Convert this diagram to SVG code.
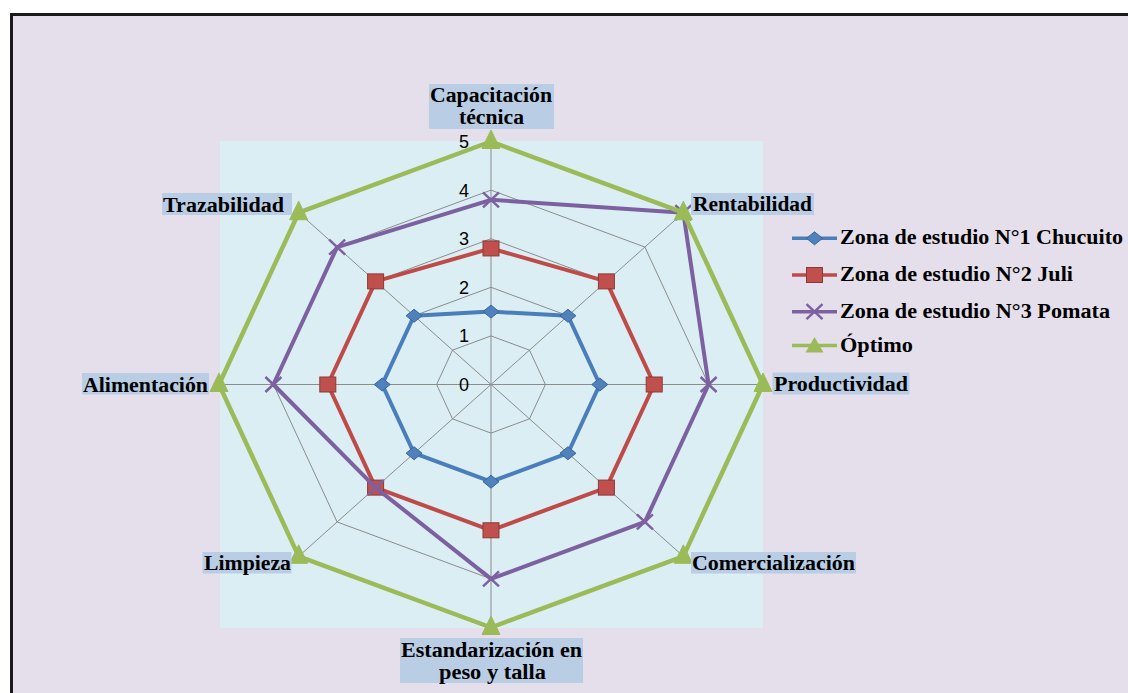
<svg xmlns="http://www.w3.org/2000/svg" width="1128" height="693" viewBox="0 0 1128 693">
<style>
.lbl{font-family:"Liberation Serif","Times New Roman",serif;font-weight:bold;font-size:20px;fill:#000}
.box{fill:#B9CDE5}
.tick{font-family:"Liberation Sans",Arial,sans-serif;font-size:18px;fill:#000;text-anchor:end}
.grid{fill:none;stroke:#8C8C8C;stroke-width:1}
.s1{fill:none;stroke:#4A7EBB;stroke-width:4;stroke-linejoin:round}
.s2{fill:none;stroke:#BE4B48;stroke-width:4;stroke-linejoin:round}
.s3{fill:none;stroke:#7D60A0;stroke-width:4;stroke-linejoin:round}
.s4{fill:none;stroke:#9BBB59;stroke-width:4.5;stroke-linejoin:round}
</style>
<defs>
<marker id="mDia" markerUnits="userSpaceOnUse" markerWidth="20" markerHeight="20" viewBox="-10 -10 20 20" refX="0" refY="0" overflow="visible">
<path d="M0,-6.5 L8,0 L0,6.5 L-8,0 Z" fill="#4F81BD" stroke="#3A6699" stroke-width="1"/>
</marker>
<marker id="mSq" markerUnits="userSpaceOnUse" markerWidth="20" markerHeight="20" viewBox="-10 -10 20 20" refX="0" refY="0" overflow="visible">
<rect x="-8" y="-7.5" width="16" height="15" fill="#C0504D" stroke="#8C3836" stroke-width="1"/>
</marker>
<marker id="mX" markerUnits="userSpaceOnUse" markerWidth="20" markerHeight="20" viewBox="-10 -10 20 20" refX="0" refY="0" overflow="visible">
<path d="M-8,-7.5 L8,7.5 M-8,7.5 L8,-7.5" stroke="#7D60A0" stroke-width="2.5" fill="none"/>
</marker>
<marker id="mTri" markerUnits="userSpaceOnUse" markerWidth="24" markerHeight="24" viewBox="-12 -12 24 24" refX="0" refY="0" overflow="visible">
<path d="M0,-11.5 L9,7 L-9,7 Z" fill="#9BBB59" stroke="#9BBB59" stroke-width="1"/>
</marker>
</defs>

<g id="background">
<rect x="0" y="0" width="1128" height="693" fill="#FFFFFF"/>
<rect x="11.5" y="14.5" width="1130" height="700" fill="#E5DFEC" stroke="#1A1A1A" stroke-width="3"/>
<rect x="220" y="141" width="543" height="487" fill="#DAEEF3"/>
</g>

<g id="grid">
<polygon class="grid" points="491,335.9 529.47,350.14 545.4,384.5 529.47,418.87 491,433.1 452.53,418.87 436.6,384.5 452.53,350.14"/>
<polygon class="grid" points="491,287.3 567.93,315.77 599.8,384.5 567.93,453.23 491,481.7 414.07,453.23 382.2,384.5 414.07,315.77"/>
<polygon class="grid" points="491,238.7 606.4,281.4 654.2,384.5 606.4,487.6 491,530.3 375.6,487.6 327.8,384.5 375.6,281.4"/>
<polygon class="grid" points="491,190.1 644.86,247.04 708.6,384.5 644.86,521.96 491,578.9 337.14,521.96 273.4,384.5 337.14,247.04"/>
<polygon class="grid" points="491,141.5 683.33,212.68 763,384.5 683.33,556.33 491,627.5 298.67,556.33 219,384.5 298.67,212.68"/>
<path class="grid" d="M491,384.5 L491,141.5 M491,384.5 L683.33,212.68 M491,384.5 L763,384.5 M491,384.5 L683.33,556.33 M491,384.5 L491,627.5 M491,384.5 L298.67,556.33 M491,384.5 L219,384.5 M491,384.5 L298.67,212.68"/>
</g>

<g id="ticks">
<text class="tick" x="469" y="148">5</text>
<text class="tick" x="469" y="196.6">4</text>
<text class="tick" x="469" y="245.2">3</text>
<text class="tick" x="469" y="293.8">2</text>
<text class="tick" x="469" y="342.4">1</text>
<text class="tick" x="469" y="391">0</text>
</g>

<g id="connectors">
<polygon id="serie-chucuito" class="s1" points="491,311.6 567.93,315.77 599.8,384.5 567.93,453.23 491,481.7 414.07,453.23 382.2,384.5 414.07,315.77" marker-start="url(#mDia)" marker-mid="url(#mDia)"/>
<polygon id="serie-juli" class="s2" points="491,248.42 606.4,281.4 654.2,384.5 606.4,487.6 491,530.3 375.6,487.6 327.8,384.5 375.6,281.4" marker-start="url(#mSq)" marker-mid="url(#mSq)"/>
<polygon id="serie-pomata" class="s3" points="491,199.82 683.33,212.68 708.6,384.5 644.86,521.96 491,578.9 375.6,487.6 273.4,384.5 337.14,247.04" marker-start="url(#mX)" marker-mid="url(#mX)"/>
<polygon id="serie-optimo" class="s4" points="491,141.5 683.33,212.68 763,384.5 683.33,556.33 491,627.5 298.67,556.33 219,384.5 298.67,212.68" marker-start="url(#mTri)" marker-mid="url(#mTri)"/>
</g>

<g id="label-capacitacion">
<rect class="box" x="429" y="84" width="125" height="45"/>
<text class="lbl" x="430" y="102" textLength="122" lengthAdjust="spacingAndGlyphs">Capacitación</text>
<text class="lbl" x="459" y="124" textLength="65" lengthAdjust="spacingAndGlyphs">técnica</text>
</g>
<g id="label-rentabilidad">
<rect class="box" x="691" y="193" width="123" height="22"/>
<text class="lbl" x="693" y="211" textLength="119" lengthAdjust="spacingAndGlyphs">Rentabilidad</text>
</g>
<g id="label-productividad">
<rect class="box" x="772.5" y="372.5" width="137" height="22"/>
<text class="lbl" x="774" y="391" textLength="134" lengthAdjust="spacingAndGlyphs">Productividad</text>
</g>
<g id="label-comercializacion">
<rect class="box" x="691" y="552" width="165" height="21.5"/>
<text class="lbl" x="692" y="570" textLength="163" lengthAdjust="spacingAndGlyphs">Comercialización</text>
</g>
<g id="label-estandarizacion">
<rect class="box" x="400" y="638" width="183" height="45"/>
<text class="lbl" x="401" y="657" textLength="181" lengthAdjust="spacingAndGlyphs">Estandarización en</text>
<text class="lbl" x="439" y="679" textLength="107" lengthAdjust="spacingAndGlyphs">peso y talla</text>
</g>
<g id="label-limpieza">
<rect class="box" x="202.5" y="552" width="89" height="21.5"/>
<text class="lbl" x="204" y="570" textLength="87" lengthAdjust="spacingAndGlyphs">Limpieza</text>
</g>
<g id="label-alimentacion">
<rect class="box" x="82" y="373" width="127" height="21.5"/>
<text class="lbl" x="83" y="391.5" textLength="125" lengthAdjust="spacingAndGlyphs">Alimentación</text>
</g>
<g id="label-trazabilidad">
<rect class="box" x="162" y="193" width="130" height="22"/>
<text class="lbl" x="163" y="211.5" textLength="121" lengthAdjust="spacingAndGlyphs">Trazabilidad</text>
</g>

<g id="legend">
<g id="legend-chucuito">
<line x1="792" y1="238.3" x2="837" y2="238.3" stroke="#4A7EBB" stroke-width="3.5"/>
<path d="M814.5,231.8 L822.5,238.3 L814.5,244.8 L806.5,238.3 Z" fill="#4F81BD" stroke="#3A6699" stroke-width="1"/>
<text class="lbl" x="840" y="244.3" textLength="283" lengthAdjust="spacingAndGlyphs">Zona de estudio N°1 Chucuito</text>
</g>
<g id="legend-juli">
<line x1="792" y1="275" x2="837" y2="275" stroke="#BE4B48" stroke-width="3.5"/>
<rect x="806.5" y="267.5" width="16" height="15" fill="#C0504D" stroke="#8C3836" stroke-width="1"/>
<text class="lbl" x="840" y="281" textLength="233" lengthAdjust="spacingAndGlyphs">Zona de estudio N°2 Juli</text>
</g>
<g id="legend-pomata">
<line x1="792" y1="311.7" x2="837" y2="311.7" stroke="#7D60A0" stroke-width="3.5"/>
<path d="M806.5,304.2 L822.5,319.2 M806.5,319.2 L822.5,304.2" stroke="#7D60A0" stroke-width="2.5"/>
<text class="lbl" x="840" y="317.5" textLength="270" lengthAdjust="spacingAndGlyphs">Zona de estudio N°3 Pomata</text>
</g>
<g id="legend-optimo">
<line x1="792" y1="345.5" x2="837" y2="345.5" stroke="#9BBB59" stroke-width="3.5"/>
<path d="M814.5,337 L823.5,352.5 L805.5,352.5 Z" fill="#9BBB59"/>
<text class="lbl" x="840" y="352" textLength="73" lengthAdjust="spacingAndGlyphs">Óptimo</text>
</g>
</g>
</svg>
